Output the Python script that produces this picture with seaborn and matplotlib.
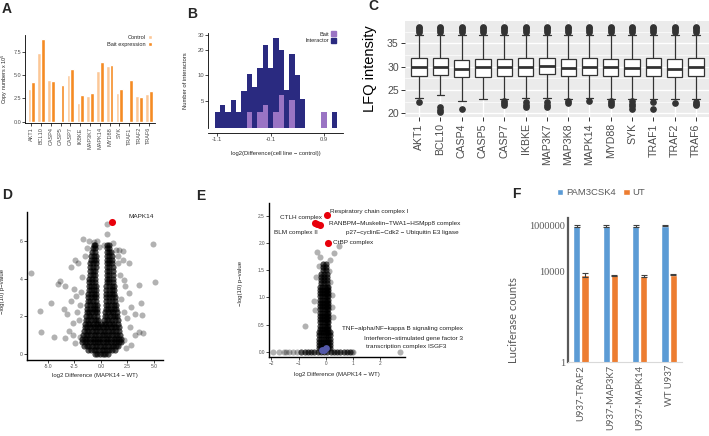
import numpy as np
import pandas as pd
import matplotlib
matplotlib.use("Agg")
import matplotlib.pyplot as plt
import seaborn as sns
from matplotlib.patches import Patch
from matplotlib.ticker import NullLocator

sns.set_theme(style="white")
plt.rcParams["font.family"] = ["Liberation Sans", "DejaVu Sans"]
plt.rcParams["axes.unicode_minus"] = True

W, H = 709, 436
fig = plt.figure(figsize=(7.09, 4.36), dpi=100)


def add_ax(x0, y0, x1, y1):
    return fig.add_axes([x0 / W, 1 - y1 / H, (x1 - x0) / W, (y1 - y0) / H])


def classic(ax, lw=0.6, tl=2, ts=4.0):
    for s in ["top", "right"]:
        ax.spines[s].set_visible(False)
    for s in ["left", "bottom"]:
        ax.spines[s].set_color("black")
        ax.spines[s].set_linewidth(lw)
    ax.tick_params(axis="both", length=tl, width=0.5, color="black",
                   labelsize=ts, labelcolor="#4D4D4D", pad=1, bottom=True, left=True)


# ---------------- data ----------------
A_genes = ["AKT1", "BCL10", "CASP4", "CASP5", "CASP7", "IKBKE", "MAP3K7",
           "MAPK14", "MYD88", "SYK", "TRAF1", "TRAF2", "TRAF6"]
A_control = [3.5, 7.4, 4.5, 0.0, 5.0, 2.0, 2.8, 5.4, 6.0, 3.1, 0.0, 2.75, 3.0]
A_bait = [4.3, 8.9, 4.4, 3.9, 5.7, 2.9, 3.1, 6.4, 6.1, 3.5, 4.5, 2.6, 3.3]

B_centers = [-1.1, -1.0, -0.9, -0.8, -0.7, -0.6, -0.5, -0.4, -0.3, -0.2, -0.1, 0.0,
             0.1, 0.2, 0.3, 0.4, 0.5, 0.6, 0.7, 0.8, 0.9, 1.0, 1.1]
B_interactor = [3.7, 4.5, 3.7, 5.2, 3.7, 6.6, 10.4, 7.3, 12.1, 22.9, 12.1, 28.0,
                20.0, 6.7, 17.8, 10.2, 5.3, 0, 0, 0, 0, 0, 3.7]
B_bait = [0, 0, 0, 0, 0, 0, 3.7, 0, 3.7, 4.5, 0, 3.7,
          5.9, 0, 5.2, 0, 0, 0, 0, 0, 3.7, 0, 0]

C_genes = ["AKT1", "BCL10", "CASP4", "CASP5", "CASP7", "IKBKE", "MAP3K7",
           "MAP3K8", "MAPK14", "MYD88", "SYK", "TRAF1", "TRAF2", "TRAF6"]
C_q1 = [28.1, 28.2, 27.8, 27.9, 28.1, 28.1, 28.4, 28.1, 28.2, 28.1, 28.1, 28.1, 27.9, 28.1]
C_median = [29.85, 30.0, 29.6, 29.85, 29.85, 29.85, 30.05, 29.8, 30.0, 29.85, 29.8, 29.85, 29.6, 29.85]
C_q3 = [31.8, 31.9, 31.4, 31.6, 31.6, 31.8, 31.9, 31.6, 31.8, 31.6, 31.6, 31.8, 31.6, 31.8]
C_low_whisker = [23.2, 23.9, 22.6, 23.1, 23.0, 23.2, 23.3, 23.0, 23.4, 23.0, 23.0, 23.0, 23.0, 23.0]
C_high_whisker = [36.7] * 14
C_low_outliers = [[22.4], [21.4, 20.8, 20.2], [20.9], [], [22.6, 22.2, 21.8],
                  [22.4, 21.9, 21.4], [22.5, 21.9, 21.3], [22.6, 22.2], [22.6],
                  [22.6, 22.2, 21.9], [22.7, 22.1, 21.5, 20.9], [22.4, 20.9],
                  [22.2], [22.5, 22.1, 21.7]]
C_high_outliers = [37.5, 37.9, 38.3, 38.6]

# D: volcano. Sparse proteins, plus dense-core locations that each hold several proteins.
D_sparse_x = [-6.57, -5.72, -5.66, -4.72, -4.40, -4.09, -3.84, -3.52, -3.40, -3.37, -3.21, -3.05,
              -2.86, -2.67, -2.48, -2.58, -2.17, -2.36, -2.42, -2.10, -1.95, -1.67, -1.16, -0.69,
              0.57, 0.57, 1.10, 2.04, 2.04, 2.61, 1.60, 1.67, 2.20, 2.30, 2.61, 3.55, 4.87, 5.13,
              3.77, 3.87, 3.24, 2.86, 3.55, 3.93, 3.24, 2.86, 2.77, 2.14, -2.0, -1.9, -1.8, -2.3,
              -2.6, -2.8, 1.9, 2.2, 1.8, 2.5, 2.4, -0.35, -0.15, 0.3, -1.35, 1.45, -1.5, 1.6]
D_sparse_y = [4.27, 2.27, 1.15, 2.71, 0.88, 3.70, 3.88, 2.37, 3.59, 0.81, 2.11, 1.22,
              4.62, 1.65, 4.97, 3.42, 4.80, 3.06, 0.55, 1.79, 0.90, 6.10, 6.00, 5.95,
              6.88, 6.35, 5.90, 5.47, 5.01, 4.80, 4.80, 5.50, 3.91, 3.59, 3.24, 3.65, 5.86, 3.82,
              2.71, 2.05, 2.11, 2.50, 1.17, 1.12, 0.99, 0.46, 1.43, 0.73, 2.6, 3.3, 4.1, 2.2,
              1.0, 2.8, 2.9, 2.2, 4.2, 1.9, 0.3, 6.0, 5.7, 5.8, 5.6, 5.5, 5.2, 5.2]
D_core_rows = [
    (5.8, [-0.7, -0.55, 0.6, 0.75]),
    (5.6, [-0.8, -0.55, 0.55, 0.8]),
    (5.4, [-0.85, -0.6, 0.55, 0.8, 0.95]),
    (5.2, [-0.9, -0.65, -0.5, 0.55, 0.8, 1.0]),
    (5.0, [-0.95, -0.7, -0.5, 0.55, 0.8, 1.05]),
    (4.8, [-1.0, -0.75, -0.5, 0.55, 0.8, 1.05]),
    (4.6, [-1.0, -0.75, -0.5, 0.55, 0.8, 1.1]),
    (4.4, [-1.05, -0.8, -0.55, 0.55, 0.8, 1.1]),
    (4.2, [-1.05, -0.8, -0.55, 0.55, 0.8, 1.1]),
    (4.0, [-1.1, -0.85, -0.6, 0.55, 0.8, 1.15]),
    (3.8, [-1.1, -0.85, -0.6, 0.55, 0.8, 1.15]),
    (3.6, [-1.15, -0.9, -0.65, -0.5, 0.5, 0.75, 1.0, 1.2]),
    (3.4, [-1.15, -0.9, -0.65, -0.5, 0.5, 0.75, 1.0, 1.2]),
    (3.2, [-1.2, -0.95, -0.7, -0.5, 0.5, 0.75, 1.0, 1.25]),
    (3.0, [-1.2, -0.95, -0.7, -0.5, 0.5, 0.75, 1.0, 1.3]),
    (2.8, [-1.25, -1.0, -0.75, -0.5, 0.5, 0.75, 1.0, 1.3]),
    (2.6, [-1.3, -1.05, -0.8, -0.55, -0.4, 0.45, 0.7, 0.95, 1.2, 1.4]),
    (2.4, [-1.3, -1.05, -0.8, -0.55, -0.4, 0.45, 0.7, 0.95, 1.2, 1.45]),
    (2.2, [-1.35, -1.1, -0.85, -0.6, -0.4, 0.4, 0.65, 0.9, 1.15, 1.5]),
    (2.0, [-1.4, -1.15, -0.9, -0.65, -0.4, 0.35, 0.6, 0.85, 1.1, 1.35, 1.55]),
    (1.8, [-1.45, -1.2, -0.95, -0.7, -0.45, -0.25, 0.3, 0.55, 0.8, 1.05, 1.3, 1.6]),
    (1.6, [-1.5, -1.25, -1.0, -0.75, -0.5, -0.25, 0.0, 0.25, 0.5, 0.75, 1.0, 1.25, 1.6]),
    (1.4, [-1.55, -1.3, -1.05, -0.8, -0.55, -0.3, -0.05, 0.2, 0.45, 0.7, 0.95, 1.2, 1.45, 1.7]),
    (1.2, [-1.6, -1.35, -1.1, -0.85, -0.6, -0.35, -0.1, 0.15, 0.4, 0.65, 0.9, 1.15, 1.4, 1.7]),
    (1.0, [-1.7, -1.45, -1.2, -0.95, -0.7, -0.45, -0.2, 0.05, 0.3, 0.55, 0.8, 1.05, 1.3, 1.55, 1.8]),
    (0.8, [-1.8, -1.55, -1.3, -1.05, -0.8, -0.55, -0.3, -0.05, 0.2, 0.45, 0.7, 0.95, 1.2, 1.45, 1.7, 1.9]),
    (0.6, [-1.8, -1.55, -1.3, -1.05, -0.8, -0.55, -0.3, -0.05, 0.2, 0.45, 0.7, 0.95, 1.2, 1.45, 1.7, 1.9]),
    (0.4, [-1.6, -1.35, -1.1, -0.85, -0.6, -0.35, -0.1, 0.15, 0.4, 0.65, 0.9, 1.15, 1.4, 1.65]),
    (0.2, [-1.2, -0.95, -0.7, -0.45, -0.2, 0.05, 0.3, 0.55, 0.8, 1.05, 1.3]),
    (0.0, [-0.6, -0.35, -0.1, 0.15, 0.4, 0.65]),
]
D_core_stack = 3
D_hit = ("MAPK14", 1.05, 7.0)

E_sparse_x = [-0.31, 0.31, 0.49, -0.45, -0.75, -0.23, 0.13, 0.16, 0.22, 0.28, -0.38, -0.36,
              0.22, 0.16, -0.21, 2.72, -1.93, -1.72, -1.55, -1.45, -1.34, -1.2, -1.07, 1.02, 0.95]
E_sparse_y = [1.84, 1.82, 1.95, 0.94, 0.47, 1.57, 1.49, 1.29, 1.04, 0.64, 0.77, 1.38,
              0.83, 1.69, 1.75, 0.0, 0.0, 0.0, 0.0, 0.0, 0.0, 0.0, 0.0, 0.0, 0.0]
# groups of rows sharing the same x positions: (row heights, x positions)
E_core_groups = [
    ([0.0], [-0.9, -0.78, -0.66, -0.54, -0.42, -0.3, -0.18, -0.06, 0.06, 0.18, 0.3,
             0.42, 0.54, 0.66, 0.78, 0.9]),
    ([0.06, 0.12, 0.18, 0.24, 0.30, 0.36], [-0.24, -0.16, -0.08, 0.0, 0.08, 0.15]),
    ([0.42, 0.48, 0.54, 0.60, 0.66, 0.72, 0.78, 0.84, 0.90, 0.96, 1.02, 1.08, 1.14, 1.20],
     [-0.2, -0.12, -0.04, 0.04, 0.1]),
    ([1.26, 1.32, 1.38, 1.44], [-0.16, -0.06, 0.04]),
    ([1.50, 1.56, 1.62], [-0.1, 0.02]),
]
E_core_stack = 3
E_red_x = [0.06, -0.39, -0.31, -0.21, 0.07]
E_red_y = [2.52, 2.38, 2.35, 2.33, 2.01]
E_blue_x = [-0.15, -0.06, 0.0]
E_blue_y = [0.03, 0.04, 0.06]
E_labels = [
    (0.16, 2.58, "Respiratory chain complex I", "left"),
    (-0.15, 2.47, "CTLH complex", "right"),
    (0.13, 2.36, "RANBPM\u2212Muskelin\u2212TWA1\u2212HSMpp8 complex", "left"),
    (-0.31, 2.19, "BLM complex II", "right"),
    (0.75, 2.19, "p27\u2212cyclinE\u2212Cdk2 \u2212 Ubiquitin E3 ligase", "left"),
    (0.26, 2.01, "CtBP complex", "left"),
    (0.59, 0.42, "TNF\u2212alpha/NF\u2212kappa B signaling complex", "left"),
    (1.42, 0.25, "Interferon\u2212stimulated gene factor 3", "left"),
    (1.48, 0.10, "transcription complex ISGF3", "left"),
]

F_groups = ["U937-TRAF2", "U937-MAP3K7", "U937-MAPK14", "WT U937"]
F_pam = [960000, 960000, 950000, 1000000]
F_pam_low = [880000, 900000, 860000, 930000]
F_pam_high = [1060000, 1030000, 1080000, 1060000]
F_ut = [6900, 6600, 6300, 7100]
F_ut_low = [5700, 6300, 5300, 6600]
F_ut_high = [8600, 6900, 7000, 7800]

# ---------------- A ----------------
axA = add_ax(25.4, 35, 154.7, 123)
dfA = pd.DataFrame({"gene": A_genes * 2,
                    "condition": ["Control"] * len(A_genes) + ["Bait expression"] * len(A_genes),
                    "value": A_control + A_bait})
sns.barplot(data=dfA, x="gene", y="value", hue="condition", palette=["#FCC796", "#F58B23"],
            width=0.76, gap=0, saturation=1, errorbar=None, ax=axA)
classic(axA)
axA.set_xlim(-0.6, 12.6)
axA.set_ylim(-0.14, 9.3)
axA.set_yticks([0, 2.5, 5, 7.5])
axA.set_yticklabels(["0.0", "2.5", "5.0", "7.5"])
axA.tick_params(axis="x", labelrotation=90)
axA.set_xlabel("")
axA.set_ylabel("Copy numbers x 10$^5$", fontsize=3.9, labelpad=1)
axA.yaxis.set_label_coords(-0.12, 0.5)
hA, lA = axA.get_legend_handles_labels()
axA.legend(hA, lA, loc="upper right", bbox_to_anchor=(1.0, 1.03), frameon=False, markerfirst=False,
           fontsize=4.1, handlelength=0.8, handleheight=0.8, handletextpad=0.4, labelspacing=0.3,
           borderaxespad=0)

# ---------------- B ----------------
axB = add_ax(208, 33, 343, 128.3)
dfB = pd.DataFrame({"x": B_centers, "inter": B_interactor, "bait": B_bait})
dfBi = dfB[dfB["inter"] > 0]
dfBb = dfB[dfB["bait"] > 0]
sns.barplot(data=dfBi, x="x", y="inter", native_scale=True, width=1.0, color="#2A2A80",
            saturation=1, linewidth=0, errorbar=None, ax=axB)
sns.barplot(data=dfBb, x="x", y="bait", native_scale=True, width=1.0, color="#9A74C4",
            saturation=1, linewidth=0, errorbar=None, ax=axB)
axB.set_yscale("log")
classic(axB, ts=4.2)
axB.spines["bottom"].set_position(("outward", 3.6))
axB.set_ylim(2.38, 31.7)
axB.set_xlim(-1.275, 1.258)
axB.set_yticks([5, 10, 20, 30])
axB.set_yticklabels(["5", "10", "20", "30"])
axB.yaxis.set_minor_locator(NullLocator())
axB.set_xticks([-1.1, -0.1, 0.9])
axB.set_xticklabels(["-1.1", "-0.1", "0.9"])
axB.set_ylabel("Number of interactors", fontsize=4.2)
axB.set_xlabel("log2(Difference(cell line \u2212 control))", fontsize=4.2)
axB.yaxis.set_label_coords(-0.15, 0.5)
axB.xaxis.set_label_coords(0.5, -0.235)
axB.legend(handles=[Patch(color="#9A74C4", label="Bait"), Patch(color="#2A2A80", label="Interactor")],
           loc="upper right", bbox_to_anchor=(0.965, 1.04), frameon=False, markerfirst=False,
           fontsize=4.1, handlelength=0.8, handleheight=0.8, handletextpad=0.4, labelspacing=0.3,
           borderaxespad=0)

# ---------------- C ----------------
axC = add_ax(405, 21, 709, 117)
recsC = []
K = 40
for i, g in enumerate(C_genes):
    vals = (C_low_outliers[i] + [C_low_whisker[i]] + [C_q1[i]] * K + [C_median[i]] * K
            + [C_q3[i]] * K + [C_high_whisker[i]] + C_high_outliers)
    recsC += [(g, v) for v in vals]
dfC = pd.DataFrame(recsC, columns=["gene", "value"])
axC.set_facecolor("#EBEBEB")
sns.boxplot(data=dfC, x="gene", y="value", order=C_genes, color="white", linecolor="#333333",
            linewidth=0.9, width=0.72, fliersize=3.8, saturation=1,
            flierprops=dict(marker="o", markerfacecolor="#333333", markeredgecolor="#333333"),
            medianprops=dict(linewidth=2.0, color="#333333"), ax=axC)
for s in axC.spines.values():
    s.set_visible(False)
axC.set_axisbelow(True)
axC.set_ylim(19.23, 39.79)
axC.set_xlim(-0.66, 13.61)
axC.set_yticks([20, 25, 30, 35])
for yv in [22.5, 27.5, 32.5, 37.5]:
    axC.axhline(yv, color="white", lw=0.5, zorder=0.5)
for yv in [20, 25, 30, 35]:
    axC.axhline(yv, color="white", lw=1.0, zorder=0.5)
for xv in range(len(C_genes)):
    axC.axvline(xv, color="white", lw=1.0, zorder=0.5)
axC.tick_params(axis="both", length=3, width=0.7, color="#333333", labelsize=7.6,
                labelcolor="#4D4D4D", pad=1.5, bottom=True, left=True)
axC.tick_params(axis="x", labelrotation=90)
axC.set_xlabel("")
axC.set_ylabel("LFQ intensity", fontsize=10.5, color="black")
axC.yaxis.set_label_coords(-0.092, 0.5)

# ---------------- D ----------------
axD = add_ax(27, 212, 163, 360)
core_x, core_y = [], []
for yv, xs in D_core_rows:
    for xv in xs:
        core_x += [xv] * D_core_stack
        core_y += [yv] * D_core_stack
dfD = pd.DataFrame({"x": D_sparse_x + core_x, "y": D_sparse_y + core_y})
sns.scatterplot(data=dfD, x="x", y="y", color="black", alpha=0.3, s=19, linewidth=0, ax=axD)
sns.scatterplot(x=[D_hit[1]], y=[D_hit[2]], color="#E8000B", s=26, linewidth=0, ax=axD)
axD.text(2.55, 7.29, D_hit[0], fontsize=4.6, va="center", ha="left", color="#222222")
classic(axD, lw=1.0, ts=3.6)
axD.set_xlim(-6.98, 5.85)
axD.set_ylim(-0.335, 7.54)
axD.set_xticks([-5, -2.5, 0, 2.5, 5])
axD.set_xticklabels(["-5.0", "-2.5", "0.0", "2.5", "5.0"])
axD.set_yticks([0, 2, 4, 6])
axD.set_xlabel("log2 Difference (MAPK14 \u2212 WT)", fontsize=4.3)
axD.set_ylabel("\u2212log(10) p\u2212value", fontsize=4.3)
axD.yaxis.set_label_coords(-0.16, 0.46)
axD.xaxis.set_label_coords(0.5, -0.088)

# ---------------- E ----------------
axE = add_ax(269, 203, 405, 357)
ecx, ecy = [], []
for ys, xs in E_core_groups:
    for yv in ys:
        for xv in xs:
            ecx += [xv] * E_core_stack
            ecy += [yv] * E_core_stack
dfE = pd.DataFrame({"x": E_sparse_x + ecx, "y": E_sparse_y + ecy})
sns.scatterplot(data=dfE, x="x", y="y", color="black", alpha=0.3, s=19, linewidth=0, ax=axE)
sns.scatterplot(x=E_blue_x, y=E_blue_y, color="#5358A8", s=24, linewidth=0, ax=axE)
sns.scatterplot(x=E_red_x, y=E_red_y, color="#E8000B", s=26, linewidth=0, ax=axE)
for lx, ly, txt, ha in E_labels:
    axE.text(lx, ly, txt, fontsize=4.6, ha=ha, va="center", color="#222222")
classic(axE, lw=1.0, ts=3.4)
axE.set_xlim(-2.09, 2.92)
axE.set_ylim(-0.098, 2.74)
axE.set_xticks([-2, -1, 0, 1, 2])
axE.set_yticks([0, 0.5, 1.0, 1.5, 2.0, 2.5])
axE.set_yticklabels(["0.0", "0.5", "1.0", "1.5", "2.0", "2.5"])
axE.set_xlabel("log2 Difference (MAPK14 \u2212 WT)", fontsize=4.3)
axE.set_ylabel("\u2212log(10) p\u2212value", fontsize=4.3)
axE.yaxis.set_label_coords(-0.19, 0.48)
axE.xaxis.set_label_coords(0.5, -0.097)

# ---------------- F ----------------
axF = add_ax(568, 218, 682, 362)
dfF = pd.DataFrame({"group": F_groups * 2,
                    "treatment": ["PAM3CSK4"] * 4 + ["UT"] * 4,
                    "value": F_pam + F_ut})
sns.barplot(data=dfF, x="group", y="value", hue="treatment", palette=["#5B9BD5", "#ED7D31"],
            width=0.55, gap=0.1, saturation=1, errorbar=None, ax=axF)
axF.set_yscale("log")
axF.set_ylim(1, 2.2e6)
bars = sorted([p for p in axF.patches if p.get_width() > 0], key=lambda p: p.get_x())
means, lows, highs = [], [], []
for i in range(len(F_groups)):
    means += [F_pam[i], F_ut[i]]
    lows += [F_pam[i] - F_pam_low[i], F_ut[i] - F_ut_low[i]]
    highs += [F_pam_high[i] - F_pam[i], F_ut_high[i] - F_ut[i]]
centers = [p.get_x() + p.get_width() / 2 for p in bars]
axF.errorbar(centers, means, yerr=[lows, highs], fmt="none", ecolor="#404040",
             elinewidth=0.8, capsize=2, capthick=0.8, zorder=5)
axF.set_yticks([1, 1e4, 1e6])
axF.set_yticklabels(["1", "10000", "1000000"], fontfamily="Liberation Serif", fontsize=7.5, color="#595959")
axF.yaxis.set_minor_locator(NullLocator())
for s in ["top", "right"]:
    axF.spines[s].set_visible(False)
axF.spines["left"].set_color("#595959")
axF.spines["left"].set_linewidth(1.6)
axF.spines["bottom"].set_color("#D9D9D9")
axF.spines["bottom"].set_linewidth(0.8)
axF.tick_params(axis="both", length=0, pad=2)
axF.tick_params(axis="x", labelrotation=90)
for t in axF.get_xticklabels():
    t.set_fontfamily("Lato")
    t.set_fontsize(6.8)
    t.set_color("#595959")
axF.set_xlabel("")
axF.set_ylabel("Luciferase counts", fontsize=8, color="#595959", fontfamily="Lato")
axF.yaxis.set_label_coords(-0.43, 0.29)
sns.move_legend(axF, loc="center left", bbox_to_anchor=(-0.175, 1.174), ncol=2, frameon=False,
                fontsize=6.8, handlelength=0.7, handleheight=0.7, handletextpad=0.3,
                columnspacing=0.8, title=None, labelcolor="#595959")

# ---------------- panel letters ----------------
for letter, px, py in [("A", 2, 9), ("B", 187, 13.5), ("C", 368, 6.5),
                       ("D", 2, 194.5), ("E", 196, 196), ("F", 512, 194)]:
    fig.text(px / W, 1 - py / H, letter, fontsize=10, fontweight="bold", va="center", ha="left")

fig.savefig("out.png", dpi=100)
